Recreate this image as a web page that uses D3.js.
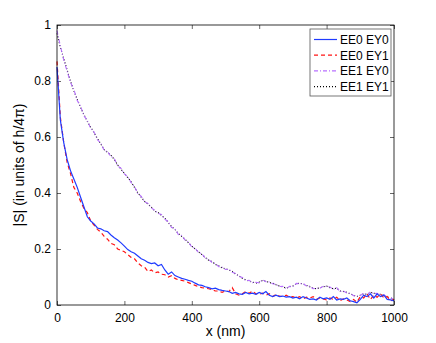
<!DOCTYPE html>
<html>
<head>
<meta charset="utf-8">
<script src="https://cdn.jsdelivr.net/npm/d3@7"></script>
<style>
  body { margin: 0; background: #fff; }
  text { font-family: "Liberation Sans", Arial, sans-serif; }
</style>
</head>
<body>
<svg id="drawing_region"></svg>
<script>
// x positions (nm), one sample every 10 nm
const xNm = d3.range(0, 1001, 10);
const xTicks = [0, 200, 400, 600, 800, 1000];
const yTicks = [0, 0.2, 0.4, 0.6, 0.8, 1];
const seriesNames = ["EE0 EY0", "EE0 EY1", "EE1 EY0", "EE1 EY1"];

const ee0ey0 = [0.85,0.66,0.58,0.52,0.48,0.45,0.42,0.385,0.35,0.315,
  0.30,0.29,0.275,0.272,0.265,0.262,0.25,0.24,0.232,0.222,
  0.21,0.198,0.19,0.185,0.175,0.165,0.16,0.152,0.148,0.15,
  0.14,0.145,0.125,0.11,0.118,0.105,0.10,0.095,0.092,0.088,
  0.085,0.078,0.072,0.07,0.065,0.062,0.058,0.06,0.055,0.052,
  0.05,0.048,0.042,0.045,0.04,0.038,0.045,0.04,0.042,0.038,
  0.045,0.04,0.048,0.035,0.03,0.035,0.03,0.032,0.028,0.03,
  0.025,0.028,0.022,0.03,0.025,0.02,0.022,0.018,0.028,0.022,
  0.025,0.02,0.03,0.018,0.022,0.02,0.025,0.015,0.012,0.008,
  0.02,0.035,0.03,0.04,0.025,0.04,0.03,0.035,0.02,0.018,0.015];

const ee0ey1 = [0.87,0.67,0.58,0.51,0.47,0.42,0.40,0.37,0.345,0.33,
  0.30,0.285,0.27,0.26,0.245,0.235,0.22,0.215,0.20,0.195,
  0.19,0.18,0.17,0.165,0.15,0.14,0.135,0.12,0.125,0.115,
  0.118,0.11,0.108,0.10,0.105,0.095,0.09,0.088,0.085,0.08,
  0.075,0.07,0.065,0.062,0.06,0.058,0.055,0.05,0.05,0.045,
  0.05,0.048,0.062,0.04,0.035,0.04,0.048,0.042,0.05,0.04,
  0.038,0.042,0.035,0.04,0.03,0.038,0.032,0.03,0.035,0.028,
  0.03,0.025,0.03,0.022,0.028,0.025,0.03,0.02,0.025,0.022,
  0.018,0.025,0.02,0.028,0.015,0.022,0.018,0.012,0.02,0.01,
  0.03,0.025,0.04,0.02,0.035,0.028,0.04,0.025,0.03,0.015,0.02];

const ee1ey0 = [0.98,0.925,0.875,0.835,0.795,0.77,0.73,0.71,0.675,0.66,
  0.63,0.618,0.59,0.578,0.552,0.548,0.53,0.523,0.497,0.488,
  0.468,0.458,0.437,0.423,0.398,0.388,0.368,0.363,0.347,0.338,
  0.327,0.323,0.306,0.298,0.277,0.273,0.252,0.248,0.232,0.225,
  0.207,0.203,0.187,0.183,0.167,0.163,0.152,0.148,0.137,0.135,
  0.127,0.128,0.117,0.113,0.102,0.098,0.087,0.088,0.08,0.081,
  0.079,0.09,0.083,0.082,0.076,0.074,0.066,0.067,0.058,0.067,
  0.066,0.077,0.076,0.077,0.068,0.067,0.058,0.06,0.06,0.067,
  0.066,0.064,0.056,0.062,0.048,0.05,0.043,0.042,0.033,0.032,
  0.033,0.043,0.036,0.047,0.04,0.042,0.036,0.037,0.026,0.027,0.018];

const ee1ey1 = [0.97,0.92,0.88,0.84,0.80,0.765,0.735,0.705,0.68,0.655,
  0.635,0.615,0.595,0.575,0.555,0.545,0.535,0.52,0.50,0.485,
  0.47,0.455,0.44,0.42,0.40,0.385,0.37,0.36,0.35,0.335,
  0.33,0.32,0.31,0.295,0.28,0.27,0.255,0.245,0.235,0.222,
  0.21,0.20,0.19,0.18,0.17,0.16,0.155,0.145,0.14,0.132,
  0.13,0.125,0.12,0.11,0.105,0.095,0.09,0.085,0.082,0.078,
  0.082,0.088,0.085,0.08,0.078,0.072,0.068,0.065,0.06,0.065,
  0.068,0.075,0.078,0.075,0.07,0.065,0.06,0.058,0.062,0.065,
  0.068,0.062,0.058,0.06,0.05,0.048,0.045,0.04,0.035,0.03,
  0.035,0.04,0.038,0.045,0.042,0.04,0.038,0.035,0.028,0.025,0.02];

const config = {
  width: 436,
  height: 343,
  margin: {top: 25, right: 42, bottom: 38, left: 57}
};

const svg = d3.select('#drawing_region')
  .attr('width', config.width)
  .attr('height', config.height);

const innerW = config.width - config.margin.left - config.margin.right;
const innerH = config.height - config.margin.top - config.margin.bottom;

const chart = svg.append('g')
  .attr('transform', `translate(${config.margin.left},${config.margin.top})`);

const xscale = d3.scaleLinear().domain([0, 1000]).range([0, innerW]);
const yscale = d3.scaleLinear().domain([0, 1]).range([innerH, 0]);

const styles = [
  {color: '#1f3bff', dash: null, width: 1.2},
  {color: '#ff1414', dash: '4,3', width: 1.2},
  {color: '#b870ff', dash: '4,2,1,2', width: 1.1},
  {color: '#000', dash: '1,2', width: 1.1}
];
const allSeries = [ee0ey0, ee0ey1, ee1ey0, ee1ey1];

// axes (ticks inside, mirrored on top and right)
const fmt = d => (d === 0 ? '0' : (d === 1 ? '1' : d3.format('.1f')(d)));
const axisStyle = g => {
  g.select('.domain').remove();
  g.selectAll('line').attr('stroke', '#000').attr('stroke-width', 0.6);
  g.selectAll('text').attr('font-size', 12).attr('fill', '#000');
};
chart.append('g')
  .attr('transform', `translate(0,${innerH})`)
  .call(d3.axisBottom(xscale).tickValues(xTicks).tickSize(-4).tickPadding(8).tickFormat(d3.format('d')))
  .call(axisStyle);
chart.append('g')
  .call(d3.axisTop(xscale).tickValues(xTicks).tickSize(-4).tickFormat(''))
  .call(axisStyle);
chart.append('g')
  .call(d3.axisLeft(yscale).tickValues(yTicks).tickSize(-4).tickPadding(6).tickFormat(fmt))
  .call(axisStyle);
chart.append('g')
  .attr('transform', `translate(${innerW},0)`)
  .call(d3.axisRight(yscale).tickValues(yTicks).tickSize(-4).tickFormat(''))
  .call(axisStyle);

const line = d3.line()
  .x((d, i) => xscale(xNm[i]))
  .y(d => yscale(d));

// draw EE1 first so EE0 lines sit on top like the original
[3, 2, 1, 0].forEach(k => {
  chart.append('path')
    .datum(allSeries[k])
    .attr('fill', 'none')
    .attr('stroke', styles[k].color)
    .attr('stroke-width', styles[k].width)
    .attr('stroke-dasharray', styles[k].dash)
    .attr('d', line);
});

chart.append('rect')
  .attr('width', innerW).attr('height', innerH)
  .attr('fill', 'none').attr('stroke', '#000').attr('stroke-width', 0.8);

// axis labels
svg.append('text')
  .attr('x', config.margin.left + innerW / 2)
  .attr('y', 336)
  .attr('text-anchor', 'middle')
  .attr('font-size', 14)
  .text('x (nm)');
svg.append('text')
  .attr('transform', `translate(24,${config.margin.top + innerH / 2}) rotate(-90)`)
  .attr('text-anchor', 'middle')
  .attr('font-size', 14)
  .text('|S| (in units of h/4π)');

// legend
const lg = svg.append('g').attr('transform', 'translate(310,29)');
lg.append('rect').attr('width', 81).attr('height', 67)
  .attr('fill', '#fff').attr('stroke', '#555').attr('stroke-width', 0.8);
seriesNames.forEach((name, k) => {
  const y = 10.5 + k * 15.7;
  lg.append('line')
    .attr('x1', 4).attr('x2', 27).attr('y1', y).attr('y2', y)
    .attr('stroke', styles[k].color)
    .attr('stroke-width', styles[k].width)
    .attr('stroke-dasharray', styles[k].dash);
  lg.append('text')
    .attr('x', 30).attr('y', y + 4.5)
    .attr('font-size', 12)
    .text(name);
});
</script>
</body>
</html>
